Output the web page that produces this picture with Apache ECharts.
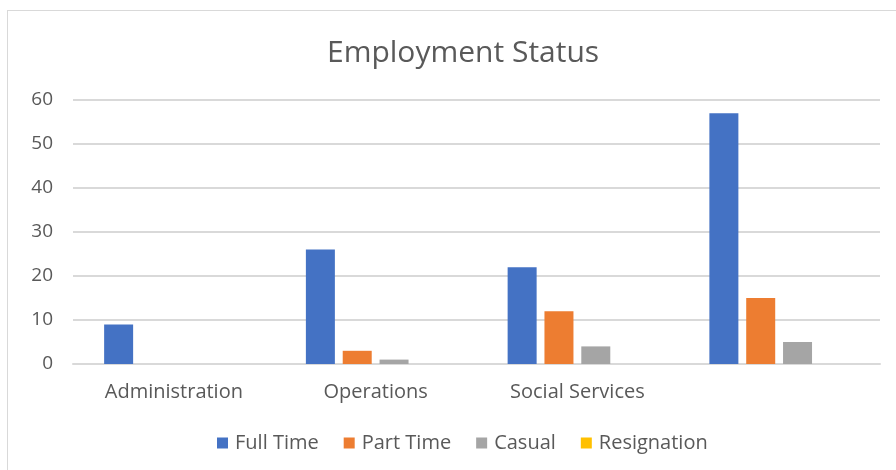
<!DOCTYPE html>
<html>
<head>
<meta charset="utf-8">
<script src="https://cdn.jsdelivr.net/npm/echarts@6/dist/echarts.min.js"></script>
<style>
    html, body { margin: 0; padding: 0; background: #fff; }
    #frame { position: absolute; left: 7px; top: 10px; width: 900px; height: 470px; border: 1px solid #d9d9d9; box-sizing: border-box; }
    #chart { position: absolute; left: 0; top: 0; width: 896px; height: 470px; }
</style>
</head>
<body>
<div id="frame"></div>
<div id="chart"></div>
<script>
    const categories = ["Administration", "Operations", "Social Services", ""];
    const fullTime = [9, 26, 22, 57];
    const partTime = [0, 3, 12, 15];
    const casual = [0, 1, 4, 5];
    const resignation = [0, 0, 0, 0];
    const yTicks = [0, 60, 10];

    const font = "'Open Sans', sans-serif";
    const textColor = "#595959";

    const chart = echarts.init(document.getElementById("chart"));

    function bar(name, data, color) {
        return { name, type: "bar", data, barWidth: 29, barGap: "27%", itemStyle: { color } };
    }

    chart.setOption({
        animation: false,
        title: {
            text: "Employment Status",
            left: 322,
            top: 33,
            textStyle: { fontFamily: font, fontSize: 30, fontWeight: "normal", color: textColor }
        },
        legend: {
            top: 433,
            left: 217,
            padding: 0,
            itemWidth: 11,
            itemHeight: 11,
            itemGap: 25,
            icon: "rect",
            textStyle: { fontFamily: font, fontSize: 20, color: textColor, padding: [0, 0, 0, 2] }
        },
        grid: { left: 73, right: 16, top: 100, bottom: 106 },
        xAxis: {
            type: "category",
            data: categories,
            axisLine: { lineStyle: { color: "#d9d9d9", width: 2 } },
            axisTick: { show: false },
            axisLabel: { fontFamily: font, fontSize: 20, color: textColor, margin: 18 }
        },
        yAxis: {
            type: "value",
            min: yTicks[0],
            max: yTicks[1],
            interval: yTicks[2],
            axisLine: { show: false },
            axisTick: { show: false },
            splitLine: { lineStyle: { color: "#d9d9d9", width: 2 } },
            axisLabel: { fontFamily: font, fontSize: 19, color: textColor, margin: 20 }
        },
        series: [
            bar("Full Time", fullTime, "#4472c4"),
            bar("Part Time", partTime, "#ed7d31"),
            bar("Casual", casual, "#a5a5a5"),
            bar("Resignation", resignation, "#ffc000")
        ]
    });

    window.addEventListener("resize", () => chart.resize());
</script>
</body>
</html>
